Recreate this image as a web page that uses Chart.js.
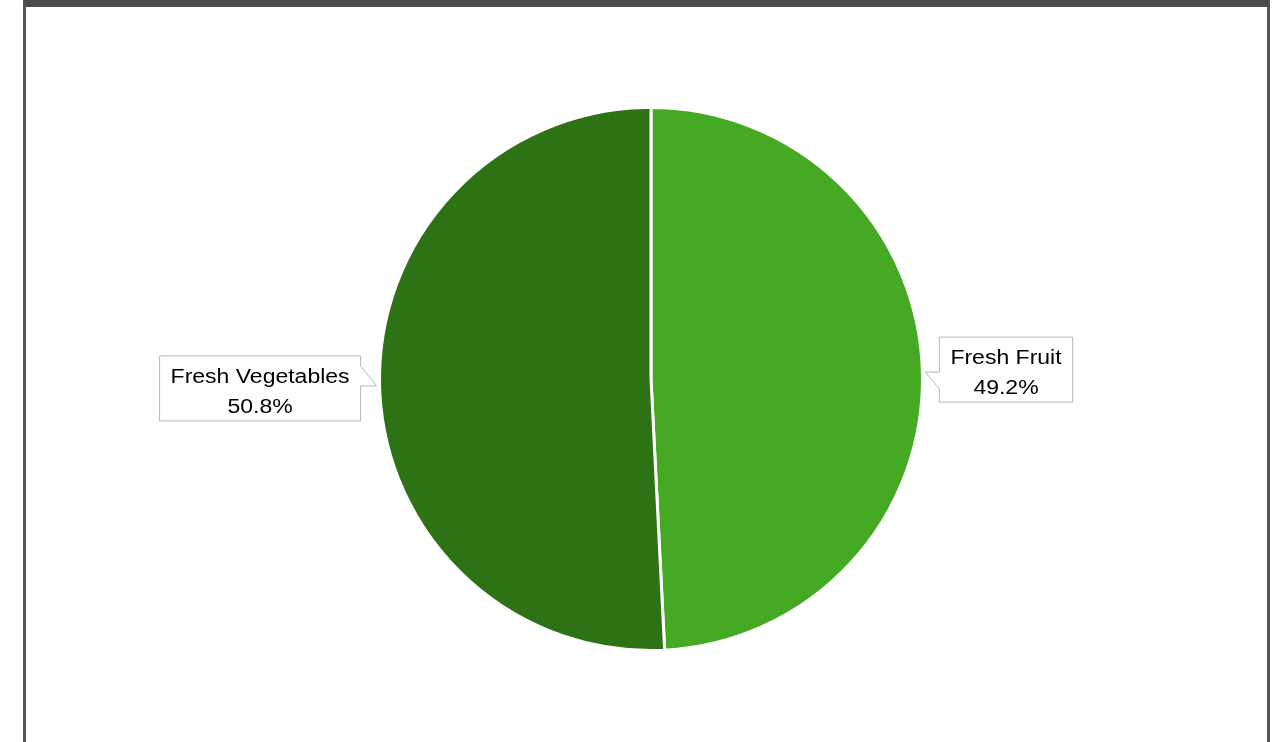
<!DOCTYPE html>
<html>
<head>
<meta charset="utf-8">
<title>Fresh produce share</title>
<script src="https://cdn.jsdelivr.net/npm/chart.js@4/dist/chart.umd.min.js"></script>
<style>
  html, body { margin: 0; padding: 0; background: #fff; overflow: hidden; }
  #frame {
    position: absolute; left: 23px; top: 0; width: 1247px; height: 760px;
    box-sizing: border-box;
    border-top: 7px solid #4b4b4b;
    border-left: 3px solid #555;
    border-right: 3px solid #555;
  }
  #chart { position: absolute; left: 0; top: 0; }
</style>
</head>
<body>
<div id="frame"></div>
<canvas id="chart" width="1273" height="742"></canvas>
<script>
// share of spending, percent
var categories = ['Fresh Fruit', 'Fresh Vegetables'];
var shares = [49.2, 50.8];
var sliceColors = ['#46a923', '#2e7216'];

// callout boxes beside each slice
var calloutPlugin = {
    id: 'callouts',
    afterDatasetsDraw: function (chart) {
        var ctx = chart.ctx;
        var meta = chart.getDatasetMeta(0);
        var font = '20px "Liberation Sans", Arial, sans-serif';
        var stretch = 1.15;

        meta.data.forEach(function (arc, i) {
            var mid = (arc.startAngle + arc.endAngle) / 2;
            var r = arc.outerRadius + 3;
            var tipX = arc.x + Math.cos(mid) * r;
            var tipY = arc.y + Math.sin(mid) * r;
            var right = Math.cos(mid) >= 0;

            var line1 = categories[i];
            var line2 = shares[i].toFixed(1) + '%';
            ctx.save();
            ctx.font = font;
            var w = Math.max(ctx.measureText(line1).width, ctx.measureText(line2).width) * stretch + 22;
            var h = 65;
            var left, top;
            if (right) {
                left = tipX + 14;
                top = tipY - 35;
            } else {
                left = tipX - 16 - w;
                top = tipY - 30;
            }

            // box with pointer
            ctx.beginPath();
            if (right) {
                ctx.moveTo(left, top);
                ctx.lineTo(left + w, top);
                ctx.lineTo(left + w, top + h);
                ctx.lineTo(left, top + h);
                ctx.lineTo(left, tipY + 17);
                ctx.lineTo(tipX, tipY);
                ctx.lineTo(left, tipY);
                ctx.closePath();
            } else {
                var bx = left + w;
                ctx.moveTo(left, top);
                ctx.lineTo(bx, top);
                ctx.lineTo(bx, tipY - 20);
                ctx.lineTo(tipX, tipY);
                ctx.lineTo(bx, tipY);
                ctx.lineTo(bx, top + h);
                ctx.lineTo(left, top + h);
                ctx.closePath();
            }
            ctx.fillStyle = '#fff';
            ctx.fill();
            ctx.lineWidth = 1;
            ctx.strokeStyle = '#b8b8b8';
            ctx.stroke();

            // two centred lines of text
            ctx.fillStyle = '#000';
            ctx.textAlign = 'center';
            ctx.textBaseline = 'alphabetic';
            [line1, line2].forEach(function (t, k) {
                ctx.save();
                ctx.translate(left + w / 2, top + 27 + k * 30);
                ctx.scale(stretch, 1);
                ctx.fillText(t, 0, 0);
                ctx.restore();
            });
            ctx.restore();
        });
    }
};

var ctx = document.getElementById('chart').getContext('2d');
var pieChart = new Chart(ctx, {
    type: 'pie',
    data: {
        labels: categories,
        datasets: [{
            data: shares,
            backgroundColor: sliceColors,
            borderColor: '#ffffff',
            borderWidth: 3
        }]
    },
    options: {
        responsive: false,
        animation: false,
        devicePixelRatio: 1,
        layout: {
            padding: { left: 378, right: 349, top: 106, bottom: 90 }
        },
        plugins: {
            legend: { display: false },
            tooltip: { enabled: false }
        }
    },
    plugins: [calloutPlugin]
});
</script>
</body>
</html>
